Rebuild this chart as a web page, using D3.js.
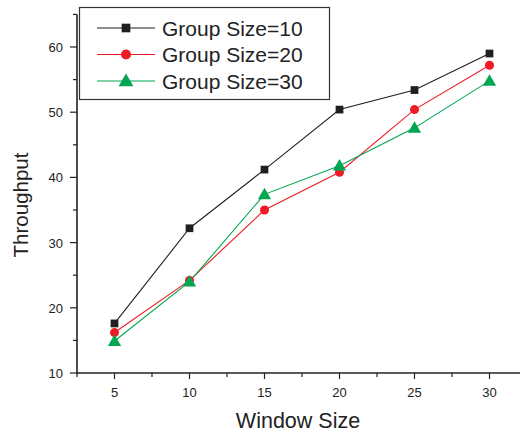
<!DOCTYPE html>
<html>
<head>
<meta charset="utf-8">
<script src="https://cdn.jsdelivr.net/npm/d3@7"></script>
<style>
  html, body { margin: 0; padding: 0; background: #fff; }
  svg { display: block; font-family: "Liberation Sans", Arial, sans-serif; }
</style>
</head>
<body>
<svg id="chart" width="520" height="436"></svg>
<script>
// Throughput versus window size for three group sizes
const windowSizes = [5, 10, 15, 20, 25, 30];
const groupSize10 = [17.6, 32.2, 41.2, 50.4, 53.4, 59.0];
const groupSize20 = [16.2, 24.2, 35.0, 40.8, 50.4, 57.2];
const groupSize30 = [14.9, 24.0, 37.4, 41.8, 47.6, 54.8];
const seriesNames = ["Group Size=10", "Group Size=20", "Group Size=30"];
const xTicks = [5, 10, 15, 20, 25, 30];
const yTicks = [10, 20, 30, 40, 50, 60];

const colors = ["#231f20", "#ed1c24", "#00a651"];
const shapes = [d3.symbolSquare, d3.symbolCircle, d3.symbolTriangle];
const symbolSizes = [60, 64, 76];

const svg = d3.select("#chart");
const plotLeft = 77, plotBottom = 373;

const x = d3.scaleLinear().domain([2.5, 32.5]).range([plotLeft, plotLeft + 450]);
const y = d3.scaleLinear().domain([10, 65]).range([plotBottom, plotBottom - 55 * 6.52]);

// Axes: major ticks labelled, minor ticks in between
const xAxis = svg.append("g").attr("transform", `translate(0,${plotBottom})`);
xAxis.append("line").attr("x1", plotLeft).attr("x2", 520).attr("y1", 0).attr("y2", 0)
  .attr("stroke", "#222").attr("stroke-width", 1.6);
const xMinor = d3.range(2.5, 33, 5);
xAxis.selectAll(".minor").data(xMinor).join("line")
  .attr("x1", d => x(d)).attr("x2", d => x(d)).attr("y1", 0).attr("y2", 4)
  .attr("stroke", "#222").attr("stroke-width", 1.2);
xAxis.selectAll(".major").data(xTicks).join("line")
  .attr("x1", d => x(d)).attr("x2", d => x(d)).attr("y1", 0).attr("y2", 6)
  .attr("stroke", "#222").attr("stroke-width", 1.2);
xAxis.selectAll("text").data(xTicks).join("text")
  .attr("x", d => x(d)).attr("y", 24).attr("text-anchor", "middle")
  .attr("font-size", 13).attr("fill", "#222").text(d => d);

const yAxis = svg.append("g");
yAxis.append("line").attr("x1", plotLeft).attr("x2", plotLeft).attr("y1", plotBottom + 1).attr("y2", y(65))
  .attr("stroke", "#222").attr("stroke-width", 1.6);
const yMinor = d3.range(15, 66, 10);
yAxis.selectAll(".minor").data(yMinor).join("line")
  .attr("x1", plotLeft - 4).attr("x2", plotLeft).attr("y1", d => y(d)).attr("y2", d => y(d))
  .attr("stroke", "#222").attr("stroke-width", 1.2);
yAxis.selectAll(".major").data(yTicks).join("line")
  .attr("x1", plotLeft - 7).attr("x2", plotLeft).attr("y1", d => y(d)).attr("y2", d => y(d))
  .attr("stroke", "#222").attr("stroke-width", 1.2);
yAxis.selectAll("text").data(yTicks).join("text")
  .attr("x", plotLeft - 14).attr("y", d => y(d) + 5).attr("text-anchor", "end")
  .attr("font-size", 13).attr("fill", "#222").text(d => d);

// Axis titles
svg.append("text").attr("x", 298).attr("y", 428).attr("text-anchor", "middle")
  .attr("font-size", 21.5).attr("fill", "#222").text("Window Size");
svg.append("text").attr("transform", "translate(28,205) rotate(-90)")
  .attr("text-anchor", "middle").attr("font-size", 20.5).attr("fill", "#222").text("Throughput");

// Series lines and markers
const allSeries = [groupSize10, groupSize20, groupSize30];
const line = d3.line().x((d, i) => x(windowSizes[i])).y(d => y(d));
allSeries.forEach((vals, k) => {
  svg.append("path").datum(vals).attr("d", line)
    .attr("fill", "none").attr("stroke", colors[k]).attr("stroke-width", 1.1);
});
allSeries.forEach((vals, k) => {
  svg.selectAll(".m" + k).data(vals).join("path")
    .attr("transform", (d, i) => `translate(${x(windowSizes[i])},${y(d) + (k === 2 ? 1 : 0)})`)
    .attr("d", d3.symbol(shapes[k], symbolSizes[k]))
    .attr("fill", colors[k]);
});

// Legend
const legend = svg.append("g");
legend.append("rect").attr("x", 79.5).attr("y", 7.5).attr("width", 250).attr("height", 92)
  .attr("fill", "#fff").attr("stroke", "#333").attr("stroke-width", 1.2);
seriesNames.forEach((name, k) => {
  const cy = 28 + k * 26.5;
  legend.append("line").attr("x1", 97).attr("x2", 155).attr("y1", cy).attr("y2", cy)
    .attr("stroke", colors[k]).attr("stroke-width", 1.1);
  legend.append("path").attr("transform", `translate(126,${cy + (k === 2 ? 1 : 0)})`)
    .attr("d", d3.symbol(shapes[k], symbolSizes[k] * 1.25)).attr("fill", colors[k]);
  legend.append("text").attr("x", 162).attr("y", cy + 7.5).attr("font-size", 21)
    .attr("fill", "#222").text(name);
});
</script>
</body>
</html>
